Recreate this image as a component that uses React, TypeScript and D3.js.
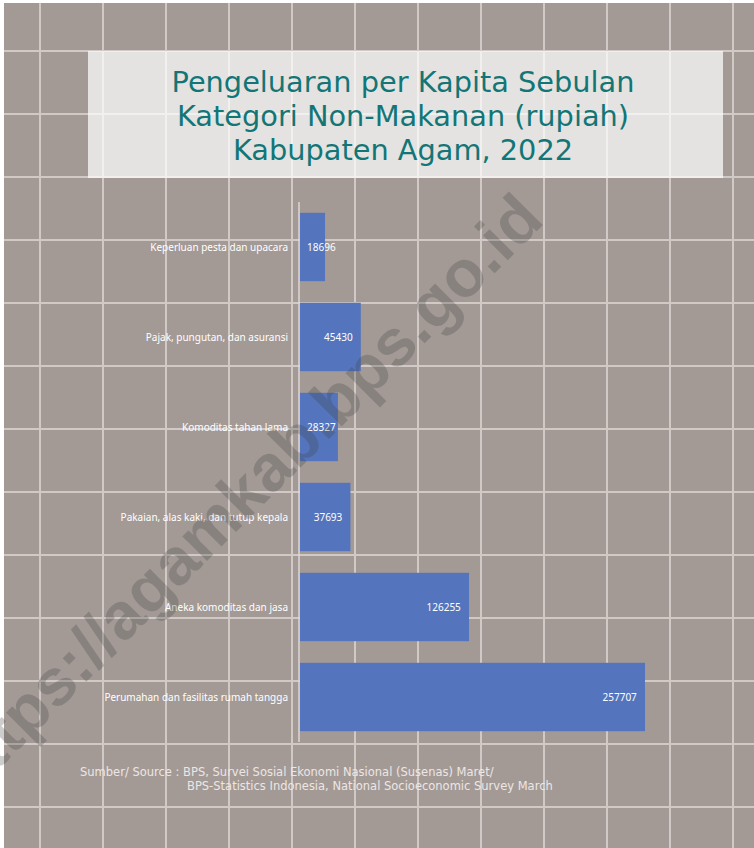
import { scaleBand, scaleLinear, range } from "d3";

const categories = [
  "Keperluan pesta dan upacara",
  "Pajak, pungutan, dan asuransi",
  "Komoditas tahan lama",
  "Pakaian, alas kaki, dan tutup kepala",
  "Aneka komoditas dan jasa",
  "Perumahan dan fasilitas rumah tangga",
];
const values = [18696, 45430, 28327, 37693, 126255, 257707];

const titleLines = [
  "Pengeluaran per Kapita Sebulan",
  "Kategori Non-Makanan (rupiah)",
  "Kabupaten Agam, 2022",
];
const sourceLines = [
  "Sumber/ Source : BPS, Survei Sosial Ekonomi Nasional (Susenas) Maret/",
  "BPS-Statistics Indonesia, National Socioeconomic Survey March",
];
const watermark = "https://agamkab.bps.go.id";

const W = 754;
const H = 848;
const BG = "#a39a96";
const GRID = "#d1c9c6";
const BAR = "#5475bd";
const LABEL_FONT = "'Noto Sans', 'Open Sans', sans-serif";
const CASUAL_FONT = "'Comic Sans MS', 'DejaVu Sans', sans-serif";

export default function App() {
  const y = scaleBand<string>()
    .domain(categories)
    .range([202, 742])
    .paddingInner(0.24)
    .paddingOuter(0.12);

  const x = scaleLinear()
    .domain([0, Math.max(...values)])
    .range([300, 645]);

  // background grid, decoration only
  const gridX = range(40, W, 63);
  const gridY = range(51, H, 63);

  return (
    <svg
      width={W}
      height={H}
      style={{ position: "absolute", left: 0, top: 0, background: "#fff" }}
    >
      <rect x={4} y={3} width={W - 4} height={H - 3} fill={BG} />
      {gridX.map((gx) => (
        <line key={`gx-${gx}`} x1={gx} x2={gx} y1={3} y2={H} stroke={GRID} strokeWidth={2} />
      ))}
      {gridY.map((gy) => (
        <line key={`gy-${gy}`} x1={4} x2={W} y1={gy} y2={gy} stroke={GRID} strokeWidth={2} />
      ))}

      {/* title box */}
      <rect x={88} y={51} width={635} height={127} fill="#fff" opacity={0.72} />
      {titleLines.map((t, i) => (
        <text
          key={t}
          x={403}
          y={92 + i * 34}
          textAnchor="middle"
          fontFamily={CASUAL_FONT}
          fontSize={28.8}
          fill="#137676"
        >
          {t}
        </text>
      ))}

      {/* bars */}
      {categories.map((c, i) => (
        <rect
          key={`bar-${c}`}
          x={x(0)}
          y={y(c)}
          width={x(values[i]) - x(0)}
          height={y.bandwidth()}
          fill={BAR}
        />
      ))}
      <line x1={299} x2={299} y1={y.range()[0]} y2={y.range()[1]} stroke="#ddd6d4" strokeWidth={1.5} />

      {categories.map((c, i) => {
        const cy = (y(c) ?? 0) + y.bandwidth() / 2;
        const label = String(values[i]);
        const tw = label.length * 5.75;
        const lx = Math.max(x(0) + 7, x(values[i]) - 8 - tw);
        return (
          <g key={`lbl-${c}`}>
            <text
              x={288}
              y={cy + 3.5}
              textAnchor="end"
              fontFamily={LABEL_FONT}
              fontSize={10}
              fill="#fff"
            >
              {c}
            </text>
            <text x={lx} y={cy + 3.5} fontFamily={LABEL_FONT} fontSize={10} fill="#fff">
              {label}
            </text>
          </g>
        );
      })}

      {/* source */}
      <text x={80} y={776} fontFamily={CASUAL_FONT} fontSize={11.5} fill="#ede6e4">
        {sourceLines[0]}
      </text>
      <text x={187} y={790} fontFamily={CASUAL_FONT} fontSize={11.5} fill="#ede6e4">
        {sourceLines[1]}
      </text>

      {/* watermark */}
      <text
        transform="translate(546,222) rotate(-45)"
        textAnchor="end"
        fontFamily="'Liberation Sans', Arial, sans-serif"
        fontWeight="bold"
        fontSize={66}
        fill="#3c3c3c"
        opacity={0.25}
      >
        {watermark}
      </text>
    </svg>
  );
}
